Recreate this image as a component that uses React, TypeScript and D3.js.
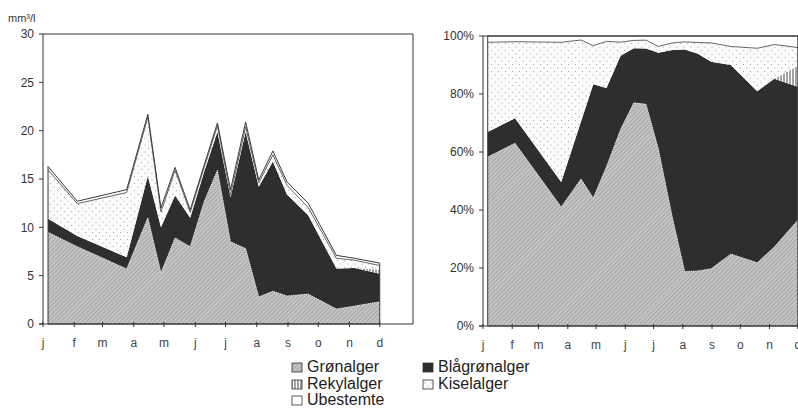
import React from "react";
import * as d3 from "d3";

// Sampling days (day of year) and biovolume (mm³/l) per algae group
const sampleDays = [5, 34, 83, 104, 117, 131, 146, 160, 173, 186, 201, 214, 228, 242, 263, 291, 309, 334];
const gronalger = [9.5, 8.0, 5.7, 11.0, 5.3, 8.9, 8.0, 12.7, 15.9, 8.5, 7.8, 2.8, 3.4, 2.9, 3.1, 1.55, 1.85, 2.3];
const blagronalger = [1.4, 1.1, 1.2, 4.3, 4.7, 4.4, 3.0, 3.1, 4.0, 4.6, 12.1, 11.4, 13.4, 10.5, 8.15, 4.2, 3.95, 2.9];
const rekylalger = [0, 0, 0, 0, 0, 0, 0, 0, 0, 0, 0, 0, 0, 0, 0, 0, 0, 0.45];
const kiselalger = [5.05, 3.35, 6.7, 6.1, 1.6, 2.6, 0.55, 0.45, 0.6, 0.3, 0.5, 0.4, 0.7, 0.95, 0.8, 1.05, 0.8, 0.4];
const ubestemte = [0.35, 0.25, 0.3, 0.3, 0.4, 0.3, 0.25, 0.25, 0.3, 0.5, 0.5, 0.3, 0.4, 0.35, 0.45, 0.3, 0.2, 0.25];

const seriesKeys = ["gron", "blagron", "rekyl", "kisel", "ubest"];
const seriesNames = ["Grønalger", "Blågrønalger", "Rekylalger", "Kiselalger", "Ubestemte"];

const monthLabels = ["j", "f", "m", "a", "m", "j", "j", "a", "s", "o", "n", "d"];
const monthStartDays = [0, 31, 59, 90, 120, 151, 181, 212, 243, 273, 304, 334];

const leftTicks = [0, 5, 10, 15, 20, 25, 30];
const rightTicks = [0, 0.2, 0.4, 0.6, 0.8, 1.0];

const fills: Record<string, string> = {
  gron: "url(#hatchGray)",
  blagron: "#2e2e2e",
  rekyl: "url(#vlines)",
  kisel: "url(#dots)",
  ubest: "#ffffff",
};

type Row = { day: number; [k: string]: number };
const rows: Row[] = sampleDays.map((d, i) => ({
  day: d,
  gron: gronalger[i],
  blagron: blagronalger[i],
  rekyl: rekylalger[i],
  kisel: kiselalger[i],
  ubest: ubestemte[i],
}));

function Panel(props: {
  x0: number; x1: number; frameRight: number; yTop: number; yBottom: number;
  expand: boolean; ticks: number[]; fmt: (v: number) => string; yMax: number;
}) {
  const { x0, x1, frameRight, yTop, yBottom, expand, ticks, fmt, yMax } = props;
  const x = d3.scaleLinear().domain([0, 365]).range([x0, x1]);
  const y = d3.scaleLinear().domain([0, yMax]).range([yBottom, yTop]);
  const stack = d3.stack<Row>().keys(seriesKeys);
  if (expand) stack.offset(d3.stackOffsetExpand);
  const layers = stack(rows);
  const area = d3.area<any>()
    .x((d) => x(d.data.day))
    .y0((d) => y(d[0]))
    .y1((d) => y(d[1]));
  const line = d3.line<any>().x((d) => x(d.data.day)).y((d) => y(d[1]));
  const top = layers[layers.length - 1];
  const kis = layers[3];
  const gr = layers[0];
  return (
    <g>
      {layers.map((L, i) => (
        <path key={seriesKeys[i]} d={area(L as any) || ""} fill={fills[seriesKeys[i]]} stroke="none" />
      ))}
      <path d={line(gr as any) || ""} fill="none" stroke="#f2f2f2" strokeWidth={0.9} strokeDasharray="1.2,1" />
      <path d={line(kis as any) || ""} fill="none" stroke="#555" strokeWidth={0.9} />
      <path d={area(top.map((d: any) => Object.assign([0, d[1]], { data: d.data })) as any) || ""}
        fill="none" stroke="#3a3a3a" strokeWidth={1} />
      {/* frame */}
      <line x1={x0} x2={frameRight} y1={yTop} y2={yTop} stroke="#333" strokeWidth={1} />
      <line x1={frameRight} x2={frameRight} y1={yTop} y2={yBottom} stroke="#333" strokeWidth={1} />
      <line x1={x0} x2={x0} y1={yTop} y2={yBottom} stroke="#333" strokeWidth={1} />
      <line x1={x0 - 4} x2={frameRight} y1={yBottom} y2={yBottom} stroke="#333" strokeWidth={1} />
      {ticks.map((t) => (
        <g key={t}>
          <line x1={x0 - 4} x2={x0} y1={y(t)} y2={y(t)} stroke="#333" />
          <text x={x0 - 9} y={y(t)} dy="0.35em" textAnchor="end" fontSize={12}
            fontFamily="Liberation Sans, Arial, sans-serif" fill="#333">{fmt(t)}</text>
        </g>
      ))}
      {monthStartDays.map((d, i) => (
        <g key={i}>
          <line x1={x(d)} x2={x(d)} y1={yBottom - 2} y2={yBottom + 3} stroke="#333" />
          <text x={x(d)} y={yBottom + 23} textAnchor="middle" fontSize={12}
            fontFamily="Liberation Sans, Arial, sans-serif" fill="#444">{monthLabels[i]}</text>
        </g>
      ))}
    </g>
  );
}

function Swatch(props: { x: number; y: number; fill: string }) {
  return <rect x={props.x} y={props.y} width={10} height={9} fill={props.fill} stroke="#333" strokeWidth={0.8} />;
}

export default function App() {
  const legendItems = [
    { k: "gron", x: 292, y: 372 },
    { k: "blagron", x: 423, y: 372 },
    { k: "rekyl", x: 292, y: 389 },
    { k: "kisel", x: 423, y: 389 },
    { k: "ubest", x: 292, y: 405 },
  ];
  return (
    <svg width={798} height={410} style={{ position: "absolute", left: 0, top: 0, background: "#fff" }}>
      <defs>
        <pattern id="hatchGray" width={3} height={3} patternUnits="userSpaceOnUse" patternTransform="rotate(45)">
          <rect width={3} height={3} fill="#c4c4c4" />
          <line x1={0} y1={0} x2={0} y2={3} stroke="#8e8e8e" strokeWidth={1.1} />
        </pattern>
        <pattern id="vlines" width={3} height={3} patternUnits="userSpaceOnUse">
          <rect width={3} height={3} fill="#fff" />
          <line x1={1} y1={0} x2={1} y2={3} stroke="#333" strokeWidth={0.9} />
        </pattern>
        <pattern id="dots" width={7} height={7} patternUnits="userSpaceOnUse">
          <rect width={7} height={7} fill="#fbfbfb" />
          <circle cx={1.5} cy={1.5} r={0.6} fill="#9a9a9a" />
          <circle cx={5} cy={5} r={0.6} fill="#9a9a9a" />
        </pattern>
      </defs>
      <text x={8} y={22} fontSize={11} fontFamily="Liberation Sans, Arial, sans-serif" fill="#333">mm³/l</text>
      <Panel x0={43} x1={411} frameRight={413} yTop={34} yBottom={324} expand={false}
        ticks={leftTicks} fmt={(v) => String(v)} yMax={30} />
      <Panel x0={483} x1={827} frameRight={830} yTop={36} yBottom={326} expand={true}
        ticks={rightTicks} fmt={(v) => `${Math.round(v * 100)}%`} yMax={1} />
      {legendItems.map((it) => (
        <g key={it.k}>
          <Swatch x={it.x} y={it.y - 9} fill={fills[it.k]} />
          <text x={it.x + 15} y={it.y} fontSize={16} fontFamily="Liberation Sans, Arial, sans-serif" fill="#222">
            {seriesNames[seriesKeys.indexOf(it.k)]}
          </text>
        </g>
      ))}
    </svg>
  );
}
